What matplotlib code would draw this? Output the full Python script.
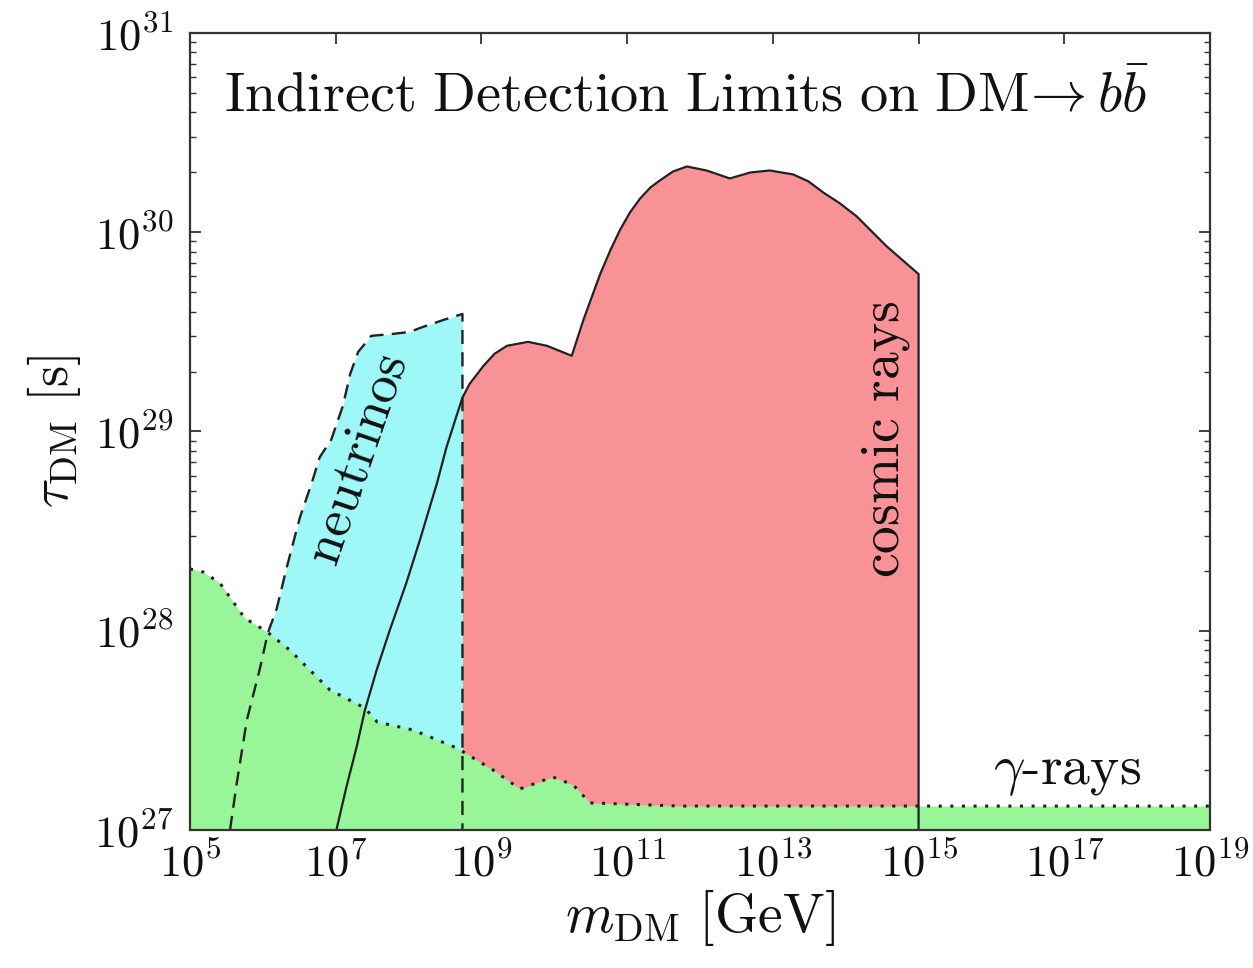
import numpy as np
import matplotlib
matplotlib.use("Agg")
import matplotlib.pyplot as plt
from matplotlib.ticker import FixedLocator, FuncFormatter, LogLocator, NullLocator

plt.rcParams["mathtext.fontset"] = "cm"
plt.rcParams["font.family"] = ["DejaVu Serif"]

# --- gamma-ray limit (log10 m [GeV], log10 tau [s]) ---
gamma_logm = [5.0, 5.18, 5.41, 5.75, 6.06, 6.37, 6.92, 7.40, 7.57, 8.06, 8.66,
              9.16, 9.53, 9.98, 10.26, 10.49, 11.73, 19.0]
gamma_logtau = [28.31, 28.295, 28.24, 28.064, 27.994, 27.903, 27.703, 27.612,
                27.542, 27.502, 27.412, 27.301, 27.206, 27.266, 27.226, 27.136,
                27.12, 27.12]

# --- neutrino limit ---
nu_logm = [5.55, 5.64, 5.78, 5.96, 6.07, 6.19, 6.33, 6.51, 6.67, 6.78, 6.94,
           7.10, 7.20, 7.31, 7.49, 7.79, 8.02, 8.16, 8.48, 8.74, 8.74]
nu_logtau = [27.0, 27.23, 27.55, 27.81, 27.99, 28.11, 28.32, 28.57, 28.74,
             28.87, 28.96, 29.13, 29.29, 29.40, 29.48, 29.49, 29.50, 29.52,
             29.56, 29.59, 27.0]

# --- cosmic-ray limit ---
cr_logm = [7.01, 7.15, 7.29, 7.40, 7.56, 7.74, 7.97, 8.16, 8.25, 8.39, 8.52,
           8.66, 8.74, 8.84, 9.03, 9.18, 9.35, 9.64, 9.90, 10.24, 10.40, 10.63,
           10.77, 10.90, 11.04, 11.18, 11.32, 11.45, 11.63, 11.82, 12.09,
           12.41, 12.69, 12.96, 13.28, 13.49, 13.69, 13.92, 14.15, 14.56,
           15.0, 15.0]
cr_logtau = [27.0, 27.22, 27.42, 27.60, 27.80, 28.00, 28.24, 28.46, 28.57,
             28.74, 28.92, 29.08, 29.17, 29.24, 29.33, 29.39, 29.43, 29.45,
             29.43, 29.38, 29.56, 29.79, 29.91, 30.01, 30.10, 30.17, 30.225,
             30.26, 30.305, 30.33, 30.31, 30.27, 30.30, 30.31, 30.29, 30.255,
             30.20, 30.145, 30.08, 29.93, 29.79, 27.0]
cr_fill_start = 8.74  # red region begins where the neutrino region ends

x_ticks_exp = [5, 7, 9, 11, 13, 15, 17, 19]
y_ticks_exp = [27, 28, 29, 30, 31]

gm, gt = 10.0 ** np.array(gamma_logm), 10.0 ** np.array(gamma_logtau)
nm, nt = 10.0 ** np.array(nu_logm), 10.0 ** np.array(nu_logtau)
cm_, ct = 10.0 ** np.array(cr_logm), 10.0 ** np.array(cr_logtau)

c_green = "#98F598"
c_cyan = "#9EF8F8"
c_red = "#F99297"
c_line = "#222222"
c_text = "#111111"

fig = plt.figure(figsize=(12.53, 9.68), dpi=100)
ax = fig.add_axes([0.1516, 0.1426, 0.8141, 0.8233])
ax.set_xscale("log")
ax.set_yscale("log")
ax.set_xlim(1e5, 1e19)
ax.set_ylim(1e27, 1e31)

floor = 1e27
# neutrino region
ax.fill_between(nm, nt, floor, color=c_cyan, lw=0, zorder=1)
# cosmic-ray region (filled beyond the neutrino edge)
mask = np.array(cr_logm) >= cr_fill_start
ax.fill_between(cm_[mask], ct[mask], floor, color=c_red, lw=0, zorder=2)
# gamma-ray region
ax.fill_between(gm, gt, floor, color=c_green, lw=0, zorder=3)

ax.plot(nm, nt, color=c_line, lw=1.7, ls=(0, (6, 3.5)), zorder=4)
ax.plot(cm_, ct, color=c_line, lw=1.6, ls="-", zorder=4, solid_joinstyle="round")
ax.plot(gm, gt, color=c_line, lw=2.2, ls=(0, (1, 2.8)), zorder=5)

# ticks
ax.xaxis.set_major_locator(FixedLocator([10.0 ** e for e in x_ticks_exp]))
ax.xaxis.set_minor_locator(NullLocator())
ax.yaxis.set_major_locator(FixedLocator([10.0 ** e for e in y_ticks_exp]))
ax.yaxis.set_minor_locator(LogLocator(base=10, subs=np.arange(2, 10), numticks=50))
fmt = FuncFormatter(lambda v, p: r"$\mathrm{10^{%d}}$" % int(round(np.log10(v))))
ax.xaxis.set_major_formatter(fmt)
ax.yaxis.set_major_formatter(fmt)
ax.tick_params(which="both", direction="in", top=True, right=True,
               color="#333333", labelsize=32, labelcolor=c_text)
ax.tick_params(which="major", length=8, width=1.3)
ax.tick_params(axis="x", which="major", pad=9)
ax.tick_params(axis="y", which="major", pad=12)
ax.tick_params(which="minor", length=4, width=1.0)
for s in ax.spines.values():
    s.set_linewidth(1.6)
    s.set_color("#333333")
    s.set_zorder(10)

ax.set_xlabel(r"$m_{\mathrm{DM}}\ [\mathrm{GeV}]$", fontsize=40, labelpad=2,
              color=c_text)
ax.set_ylabel(r"$\tau_{\mathrm{DM}}\ [\mathrm{s}]$", fontsize=39, labelpad=8,
              color=c_text)

ax.text(0.487, 0.92, r"$\mathrm{Indirect\ Detection\ Limits\ on\ DM}\!\rightarrow b\bar{b}$",
        transform=ax.transAxes, ha="center", va="center", fontsize=40.5,
        color=c_text, zorder=11)
ax.text(10 ** 7.29, 10 ** 28.86, r"$\mathrm{neutrinos}$", rotation=71,
        ha="center", va="center", fontsize=39, color=c_text, zorder=11)
ax.text(10 ** 14.54, 10 ** 28.96, r"$\mathrm{cosmic\ rays}$", rotation=90,
        ha="center", va="center", fontsize=40, color=c_text, zorder=11)
ax.text(10 ** 17.04, 10 ** 27.30, r"$\gamma\mathrm{\text{-}rays}$",
        ha="center", va="center", fontsize=40, color=c_text, zorder=11)

fig.savefig("out.png", dpi=100)
